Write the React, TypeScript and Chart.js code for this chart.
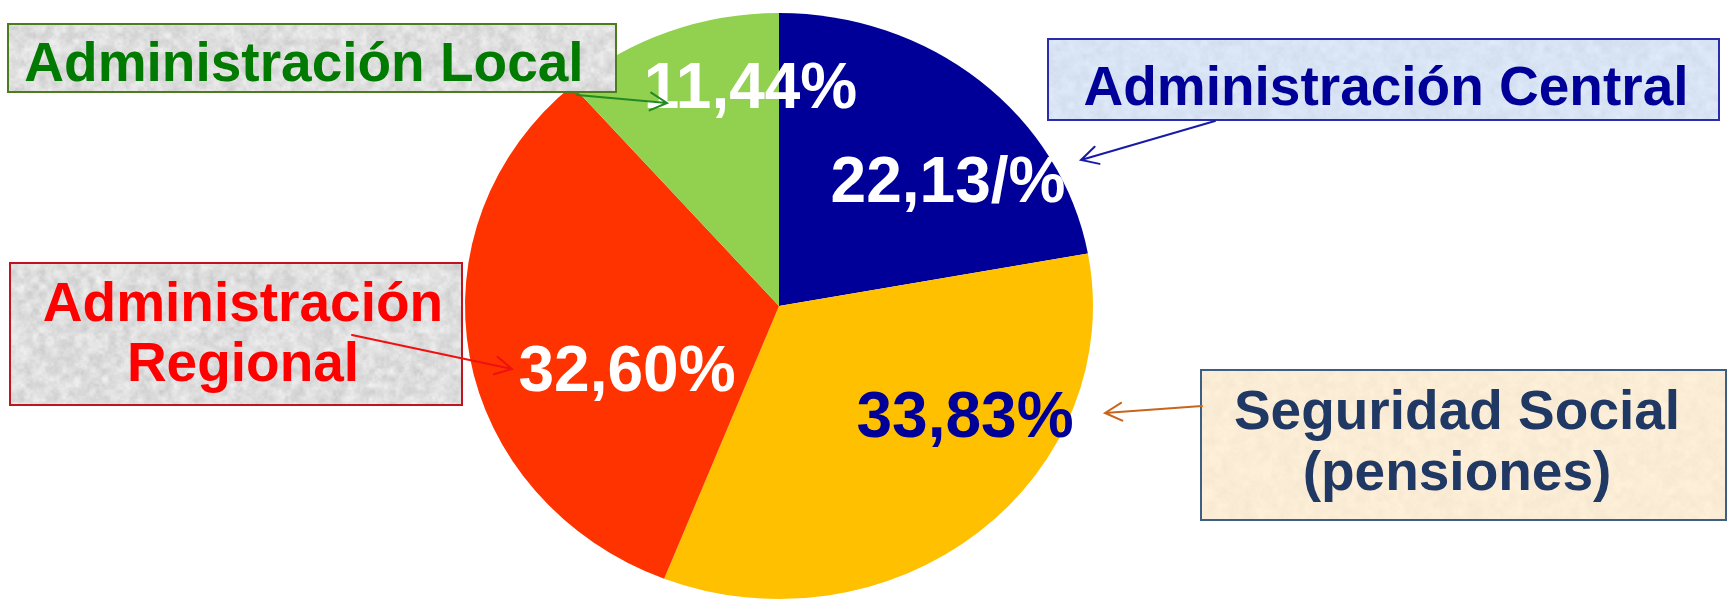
import { useEffect, useRef } from "react";
import { Chart, registerables } from "chart.js";

Chart.register(...registerables);

// ---- data ----
const categories = [
  "Administración Central",
  "Seguridad Social (pensiones)",
  "Administración Regional",
  "Administración Local",
];
const shares = [22.13, 33.83, 32.6, 11.44];
const shareLabels = ["22,13/%", "33,83%", "32,60%", "11,44%"];
const calloutLines = [
  ["Administración Central"],
  ["Seguridad Social", "(pensiones)"],
  ["Administración", "Regional"],
  ["Administración Local"],
];

// ---- styles ----
const sliceColors = ["#000099", "#FFC000", "#FF3300", "#92D050"];
const shareLabelColors = ["#FFFFFF", "#000099", "#FFFFFF", "#FFFFFF"];
const FONT = '"Liberation Sans", Arial, Helvetica, sans-serif';
const X_STRETCH = 314 / 293; // the reference pie is a slightly wide ellipse

// label offsets from pie centre (in pixels at radius 293): [dx, baseline dy]
const shareLabelOffsets = [
  [169, -104],
  [186, 131],
  [-152, 85],
  [-28.5, -198],
];

const callouts = [
  {
    box: [1047, 38, 673, 83],
    bg: [216, 228, 243],
    amp: 9,
    border: "#2B2BB0",
    color: "#000099",
    cx: 1386,
    baselines: [105],
    arrow: [1215, 121, 1081, 160],
    arrowColor: "#1A1AA8",
  },
  {
    box: [1200, 369, 527, 152],
    bg: [251, 237, 213],
    amp: 6,
    border: "#3D5E85",
    color: "#1F3864",
    cx: 1457,
    baselines: [429, 490],
    arrow: [1202, 406, 1105, 413],
    arrowColor: "#C8651B",
  },
  {
    box: [9, 262, 454, 144],
    bg: [222, 222, 222],
    amp: 22,
    border: "#C0141E",
    color: "#FF0000",
    cx: 243,
    baselines: [321, 381],
    arrow: [352, 335, 512, 369],
    arrowColor: "#F01010",
  },
  {
    box: [7, 23, 610, 70],
    bg: [222, 222, 222],
    amp: 22,
    border: "#4D7C1F",
    color: "#007A00",
    cx: 304,
    baselines: [81],
    arrow: [577, 95, 667, 103],
    arrowColor: "#218A21",
  },
];

function hash(ix: number, iy: number) {
  const s = Math.sin(ix * 127.1 + iy * 311.7) * 43758.5453;
  return s - Math.floor(s);
}
function valueNoise(x: number, y: number, cell: number) {
  const gx = x / cell;
  const gy = y / cell;
  const ix = Math.floor(gx);
  const iy = Math.floor(gy);
  const fx = gx - ix;
  const fy = gy - iy;
  const sx = fx * fx * (3 - 2 * fx);
  const sy = fy * fy * (3 - 2 * fy);
  const a = hash(ix, iy);
  const b = hash(ix + 1, iy);
  const c = hash(ix, iy + 1);
  const d = hash(ix + 1, iy + 1);
  return a + (b - a) * sx + (c - a) * sy + (a - b - c + d) * sx * sy;
}

function drawTexturedBox(ctx: CanvasRenderingContext2D, x: number, y: number, w: number, h: number, bg: number[], amp: number) {
  const off = document.createElement("canvas");
  off.width = w;
  off.height = h;
  const octx = off.getContext("2d")!;
  const img = octx.createImageData(w, h);
  for (let j = 0; j < h; j++) {
    for (let i = 0; i < w; i++) {
      const n =
        0.55 * valueNoise(i + x, j + y, 7) +
        0.3 * valueNoise(i + x + 500, j + y + 500, 3) +
        0.15 * valueNoise(i + x + 900, j + y, 1.5) -
        0.5;
      const v = n * 2 * amp;
      const p = (j * w + i) * 4;
      img.data[p] = Math.max(0, Math.min(255, bg[0] + v));
      img.data[p + 1] = Math.max(0, Math.min(255, bg[1] + v));
      img.data[p + 2] = Math.max(0, Math.min(255, bg[2] + v));
      img.data[p + 3] = 255;
    }
  }
  octx.putImageData(img, 0, 0);
  ctx.drawImage(off, x, y);
}

function drawArrow(
  ctx: CanvasRenderingContext2D,
  x1: number,
  y1: number,
  x2: number,
  y2: number,
  color: string
) {
  const ang = Math.atan2(y2 - y1, x2 - x1);
  const len = 19;
  const spread = (28 * Math.PI) / 180;
  ctx.save();
  ctx.strokeStyle = color;
  ctx.lineWidth = 2;
  ctx.lineCap = "round";
  ctx.beginPath();
  ctx.moveTo(x1, y1);
  ctx.lineTo(x2, y2);
  ctx.moveTo(x2 - len * Math.cos(ang - spread), y2 - len * Math.sin(ang - spread));
  ctx.lineTo(x2, y2);
  ctx.lineTo(x2 - len * Math.cos(ang + spread), y2 - len * Math.sin(ang + spread));
  ctx.stroke();
  ctx.restore();
}

const ellipsePlugin = {
  id: "ellipseStretch",
  beforeDatasetsDraw(chart: any) {
    const arc = chart.getDatasetMeta(0).data[0];
    if (!arc) return;
    const ctx = chart.ctx;
    ctx.save();
    ctx.translate(arc.x, arc.y);
    ctx.scale(X_STRETCH, 1);
    ctx.translate(-arc.x, -arc.y);
  },
  afterDatasetsDraw(chart: any) {
    chart.ctx.restore();
  },
};

const annotationPlugin = {
  id: "callouts",
  afterDraw(chart: any) {
    const ctx: CanvasRenderingContext2D = chart.ctx;
    const meta = chart.getDatasetMeta(0);
    const first = meta.data[0];
    const k = first.outerRadius / 293;

    // percentage labels inside the pie
    ctx.save();
    ctx.font = `bold ${Math.round(64 * k)}px ${FONT}`;
    ctx.textAlign = "center";
    ctx.textBaseline = "alphabetic";
    meta.data.forEach((_arc: any, i: number) => {
      const [dx, dy] = shareLabelOffsets[i];
      ctx.fillStyle = shareLabelColors[i];
      ctx.fillText(shareLabels[i], first.x + dx * k, first.y + dy * k);
    });
    ctx.restore();

    // callout boxes with arrows
    callouts.forEach((c, i) => {
      const [x, y, w, h] = c.box;
      ctx.save();
      drawTexturedBox(ctx, x, y, w, h, c.bg, c.amp);
      ctx.strokeStyle = c.border;
      ctx.lineWidth = 2;
      ctx.strokeRect(x + 1, y + 1, w - 2, h - 2);
      ctx.fillStyle = c.color;
      ctx.font = `bold 55px ${FONT}`;
      ctx.textAlign = "center";
      ctx.textBaseline = "alphabetic";
      calloutLines[i].forEach((line, j) => ctx.fillText(line, c.cx, c.baselines[j]));
      ctx.restore();
      const [ax1, ay1, ax2, ay2] = c.arrow;
      drawArrow(ctx, ax1, ay1, ax2, ay2, c.arrowColor);
    });
  },
};

export default function App() {
  const canvasRef = useRef<HTMLCanvasElement>(null);

  useEffect(() => {
    const canvas = canvasRef.current;
    if (!canvas) return;
    const chart = new Chart(canvas, {
      type: "pie",
      data: {
        labels: categories,
        datasets: [
          {
            data: shares,
            backgroundColor: sliceColors,
            borderWidth: 0,
            hoverOffset: 0,
            clip: false,
          } as any,
        ],
      },
      options: {
        responsive: false,
        animation: false,
        devicePixelRatio: 1,
        rotation: 0,
        layout: { padding: { left: 486, right: 656, top: 13, bottom: 1 } },
        plugins: {
          legend: { display: false },
          tooltip: { enabled: false },
          title: { display: false },
        },
        events: [],
      },
      plugins: [ellipsePlugin, annotationPlugin],
    });
    return () => chart.destroy();
  }, []);

  return (
    <div style={{ position: "fixed", left: 0, top: 0, width: 1728, height: 600, background: "#ffffff" }}>
      <canvas ref={canvasRef} width={1728} height={600} style={{ display: "block", width: 1728, height: 600 }} />
    </div>
  );
}
